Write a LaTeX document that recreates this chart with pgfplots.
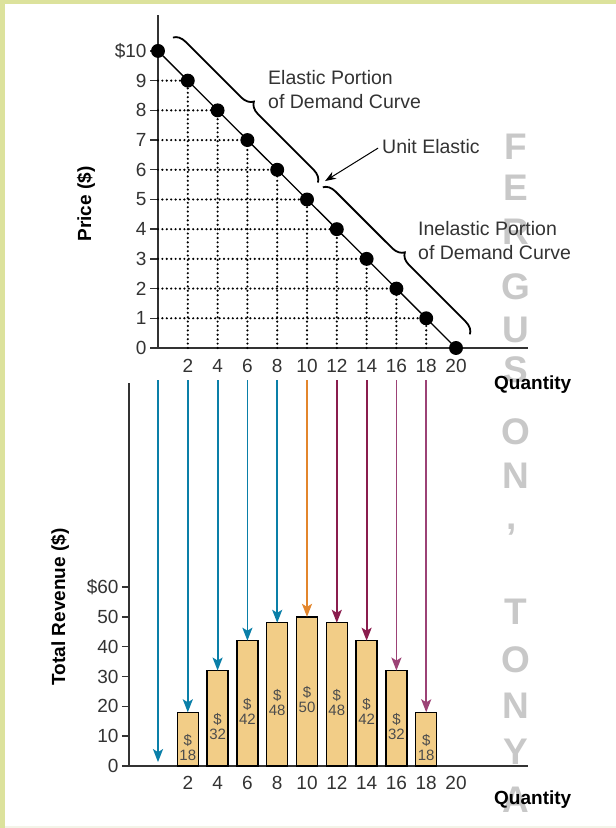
\documentclass[border=0pt]{standalone}
\usepackage{fontspec}
\setmainfont{Liberation Sans}
\usepackage{pgfplots}
\pgfplotsset{compat=1.18}
\usetikzlibrary{arrows.meta,decorations.pathreplacing}
\definecolor{bgreen}{HTML}{DCE29C}
\definecolor{bottomc}{HTML}{F3F4E8}
\definecolor{axisc}{HTML}{333333}
\definecolor{labc}{HTML}{333333}
\definecolor{barlab}{HTML}{4D4D4D}
\definecolor{barc}{HTML}{F2CD87}
\definecolor{wmc}{HTML}{C8C8C8}
\definecolor{blu}{HTML}{0A7FA8}
\definecolor{orng}{HTML}{E3862C}
\definecolor{burg}{HTML}{8A1D4E}
\definecolor{burgl}{HTML}{9C4276}
\pgfplotsset{/pgf/number format/assume math mode=true}
\begin{document}
\begin{tikzpicture}[x=1pt,y=1pt]
\useasboundingbox (0,0) rectangle (616,828);
\fill[bgreen] (0,0) rectangle (616,828);
\fill[white] (5,2) rectangle (616,824);
\fill[bottomc] (5,0) rectangle (616,2);
% watermark
\tikzset{wm/.style={font=\bfseries\fontsize{37}{40}\selectfont, text=wmc, inner sep=0pt}}
\foreach \l/\yy in {F/147,E/188,R/232,G/287,U/330,S/370,O/432,N/476,T/612,O/660,N/706,Y/752,A/800}
  \node[wm] at (516,{828-\yy}) {\l};
\node[wm] at (512,{828-530}) {,};

% upper axis
\begin{axis}[at={(158pt,480pt)}, anchor=south west,
  width=370pt, height=333pt, scale only axis,
  xmin=0, xmax=24.83, ymin=0, ymax=11.21,
  axis x line=bottom, axis y line=left,
  axis line style={-, line width=1.6pt, draw=axisc},
  clip=false,
  xtick={2,4,...,20}, ytick={0,1,...,10},
  yticklabels={0,1,2,3,4,5,6,7,8,9,\$10},
  tick align=outside, major tick length=8pt,
  x tick style={draw=none},
  y tick style={line width=1.4pt, draw=axisc},
  tick label style={font=\fontsize{19}{22}\selectfont, text=labc},
  dots/.style={draw=black, line width=2.4pt, line cap=round, dash pattern=on 0pt off 4.4pt, mark=none},
]
\addplot[ycomb, dots] coordinates {(2,9) (4,8) (6,7) (8,6) (10,5) (12,4) (14,3) (16,2) (18,1)};
\addplot[xcomb, dots] coordinates {(2,9) (4,8) (6,7) (8,6) (10,5) (12,4) (14,3) (16,2) (18,1)};
\addplot[black, line width=1.3pt, mark=*, mark size=6.3pt] coordinates {(0,10) (2,9) (4,8) (6,7) (8,6) (10,5) (12,4) (14,3) (16,2) (18,1) (20,0)};
\draw[line width=1.8pt, decorate, decoration={brace, amplitude=12pt}] (axis cs:1.00,10.45) -- (axis cs:10.73,5.57);
\draw[line width=1.8pt, decorate, decoration={brace, amplitude=12pt}] (axis cs:11.06,5.41) -- (axis cs:20.93,0.46);
\draw[-{Stealth[length=11pt,width=8pt]}, line width=1pt] (axis cs:14.77,6.73) -- (axis cs:11.21,5.62);
\end{axis}

% lower axis
\begin{axis}[at={(129pt,62pt)}, anchor=south west,
  width=399pt, height=383pt, scale only axis,
  xmin=-1.946, xmax=24.83, ymin=0, ymax=128.4,
  axis x line=bottom, axis y line=left,
  axis line style={-, line width=1.6pt, draw=axisc},
  clip=false,
  xtick={2,4,...,20}, ytick={0,10,...,60},
  yticklabels={0,10,20,30,40,50,\$60},
  tick align=outside, major tick length=7pt,
  x tick style={draw=none},
  y tick style={line width=1.4pt, draw=axisc},
  tick label style={font=\fontsize{19}{22}\selectfont, text=labc},
  arr/.style={-{Stealth[length=13pt,width=10pt,inset=3pt]}, line width=1.8pt, mark=none},
]
\addplot[ybar, bar width=1.41, fill=barc, draw=black, line width=1.3pt] coordinates {(2,18) (4,32) (6,42) (8,48) (10,50) (12,48) (14,42) (16,32) (18,18)};
\addplot[draw=none, mark=none, point meta=explicit,
  nodes near coords={\$\\\pgfmathprintnumber{\pgfplotspointmeta}},
  every node near coord/.append style={anchor=center, align=center, font=\fontsize{15}{15}\selectfont, text=barlab, inner sep=0pt}]
  coordinates {(2,6.3) [18] (4,13.3) [32] (6,18.3) [42] (8,21.3) [48] (10,22.3) [50] (12,21.3) [48] (14,18.3) [42] (16,13.3) [32] (18,6.3) [18]};
\addplot[arr, draw=blu] coordinates {(0,129.4) (0,1.3)};
\addplot[arr, draw=blu] coordinates {(2,129.4) (2,18)};
\addplot[arr, draw=blu] coordinates {(4,129.4) (4,32)};
\addplot[arr, draw=blu] coordinates {(6,129.4) (6,42)};
\addplot[arr, draw=blu] coordinates {(8,129.4) (8,48)};
\addplot[arr, draw=orng] coordinates {(10,129.4) (10,50)};
\addplot[arr, draw=burg] coordinates {(12,129.4) (12,48)};
\addplot[arr, draw=burg] coordinates {(14,129.4) (14,42)};
\addplot[arr, draw=burgl] coordinates {(16,129.4) (16,32)};
\addplot[arr, draw=burgl] coordinates {(18,129.4) (18,18)};
\end{axis}

% text annotations
\tikzset{ann/.style={font=\fontsize{19.5}{24}\selectfont, text=labc, inner sep=0pt, align=left, anchor=west}}
\node[ann] at (268,738) {Elastic Portion\\of Demand Curve};
\node[ann] at (382,681) {Unit Elastic};
\node[ann] at (418,587) {Inelastic Portion\\of Demand Curve};
\tikzset{albl/.style={font=\bfseries\fontsize{19}{22}\selectfont, text=black, inner sep=0pt}}
\node[albl, rotate=90] at (86,624) {Price (\$)};
\node[albl, rotate=90] at (60,221) {Total Revenue (\$)};
\node[albl, anchor=west] at (494,443) {Quantity};
\node[albl, anchor=west] at (494,28) {Quantity};
\end{tikzpicture}
\end{document}
